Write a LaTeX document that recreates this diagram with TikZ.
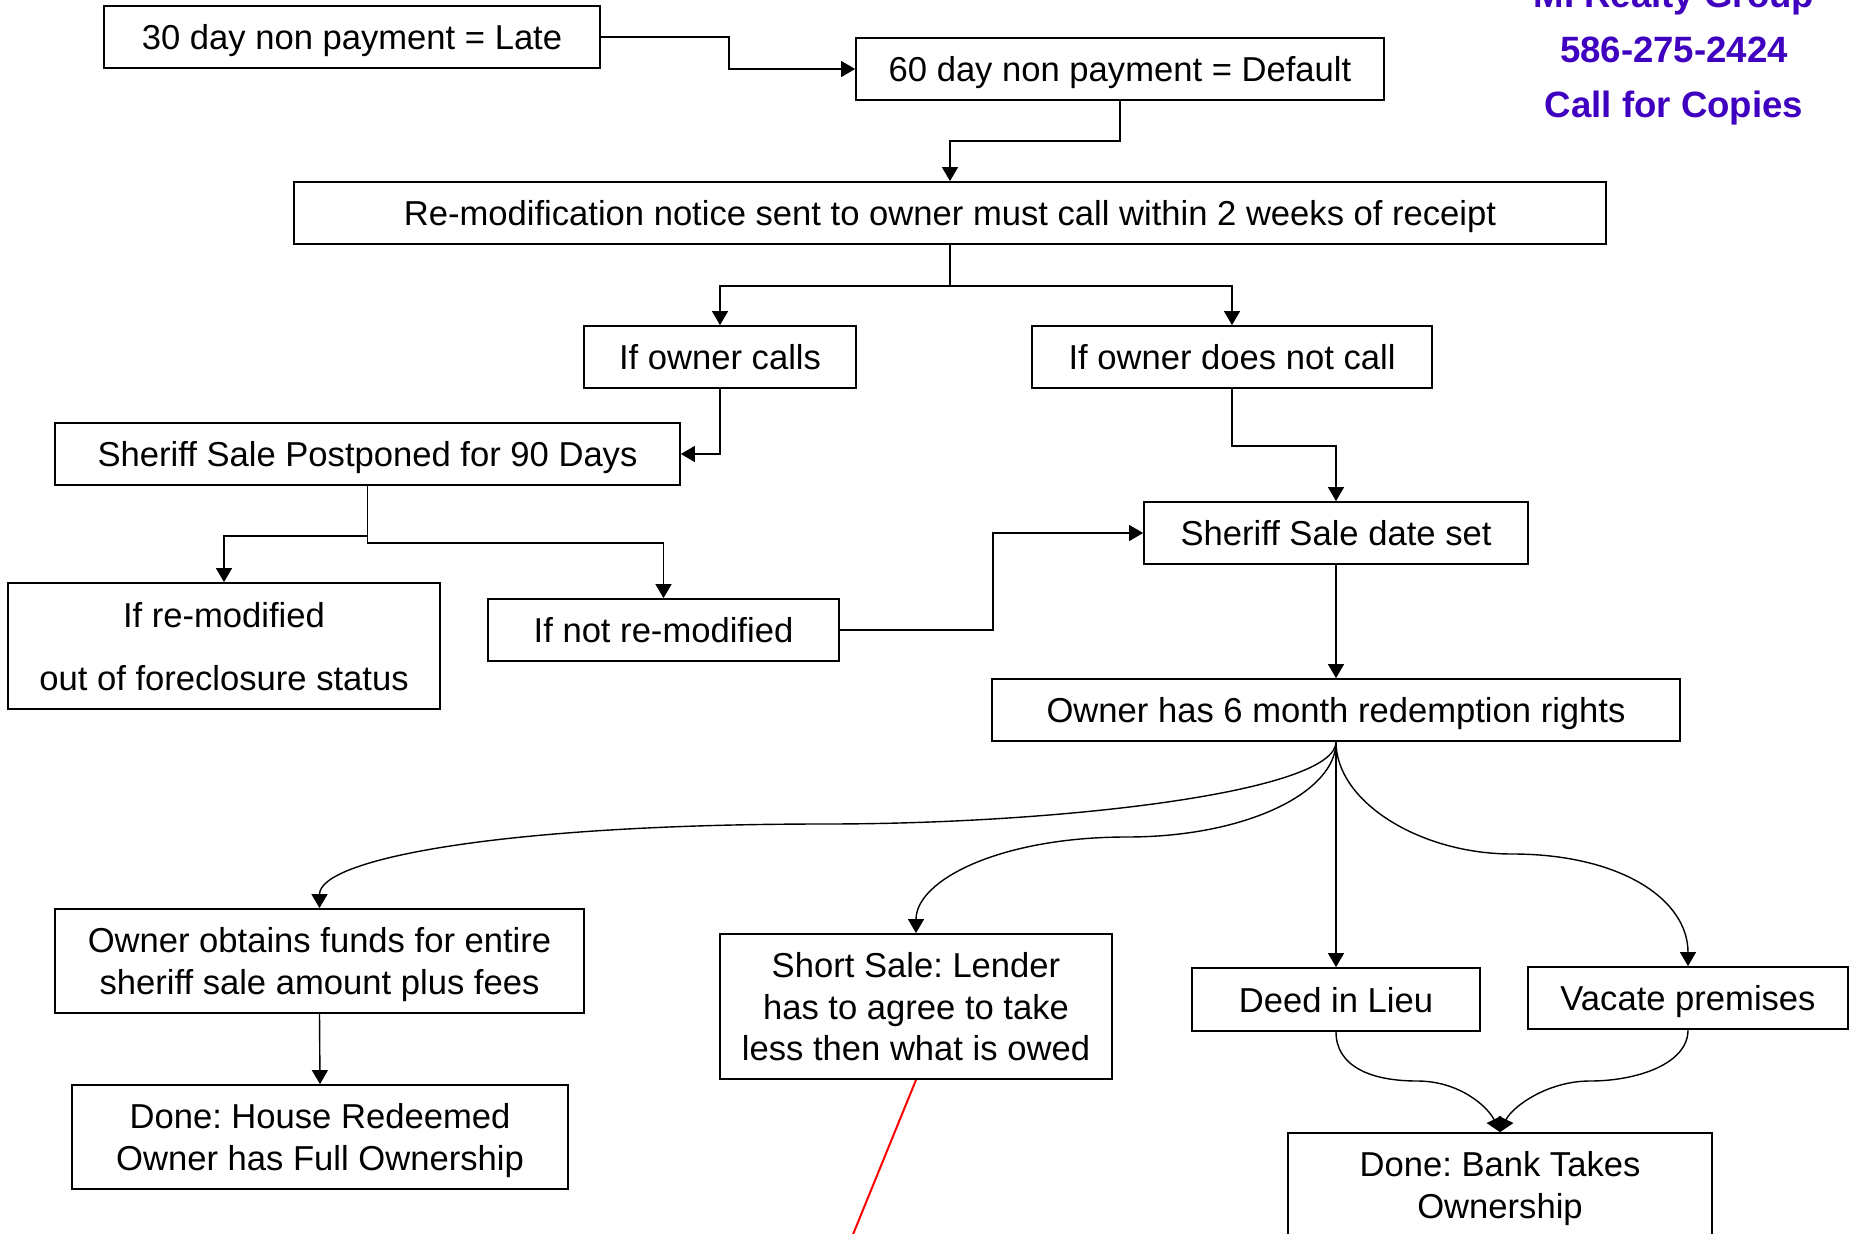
\documentclass[tikz,border=0pt]{standalone}
\usepackage{fontspec}
\setmainfont{Liberation Sans}
\usetikzlibrary{arrows.meta}
\definecolor{realty}{RGB}{64,0,192}
\frenchspacing
\begin{document}
\begin{tikzpicture}[x=0.5pt,y=-0.5pt,
  box/.style={draw, line width=0.9pt, inner sep=0pt, align=center, text depth=0pt, font=\fontsize{17.3}{20.8}\selectfont},
  conn/.style={line width=0.7pt, -{Triangle[length=7pt,width=8pt]}},
  redline/.style={draw=red, line width=1pt},
  brand/.style={text=realty, font=\fontsize{18.3}{22}\selectfont\bfseries, anchor=base}]
\useasboundingbox (0,0) rectangle (1851,1234);

% boxes
\node[box, minimum width=248pt, minimum height=31pt] (A) at (352,37) {30 day non payment = Late};
\node[box, minimum width=264pt, minimum height=31pt] (B) at (1120,69) {60 day non payment = Default};
\node[box, minimum width=656pt, minimum height=31pt] (C) at (950,213) {Re-modification notice sent to owner must call within 2 weeks of receipt};
\node[box, minimum width=136pt, minimum height=31pt] (D) at (720,357) {If owner calls};
\node[box, minimum width=200pt, minimum height=31pt] (E) at (1232,357) {If owner does not call};
\node[box, minimum width=312.5pt, minimum height=31pt] (F) at (367.5,454) {Sheriff Sale Postponed for 90 Days};
\node[box, minimum width=216pt, minimum height=63pt] (G) at (224,646) {If re-modified\\[10.7pt]out of foreclosure status};
\node[box, minimum width=175.5pt, minimum height=31pt] (H) at (663.5,630) {If not re-modified};
\node[box, minimum width=192pt, minimum height=31pt] (I) at (1336,533) {Sheriff Sale date set};
\node[box, minimum width=344pt, minimum height=31pt] (J) at (1336,710) {Owner has 6 month redemption rights};
\node[box, minimum width=264.5pt, minimum height=52pt] (K) at (319.5,961) {Owner obtains funds for entire\\sheriff sale amount plus fees};
\node[box, minimum width=248pt, minimum height=52pt] (L) at (320,1137) {Done: House Redeemed\\Owner has Full Ownership};
\node[box, minimum width=196pt, minimum height=72.5pt] (M) at (916,1006.5) {Short Sale: Lender\\has to agree to take\\less then what is owed};
\node[box, minimum width=144pt, minimum height=31.5pt] (N) at (1336,999.5) {Deed in Lieu};
\node[box, minimum width=160pt, minimum height=31pt] (O) at (1688,998) {Vacate premises};
\node[box, minimum width=212pt, minimum height=52pt] (P) at (1500,1185) {Done: Bank Takes\\Ownership};

% brand text
\node[brand] (t1) at (1674,8) {MI Realty Group};
\node[brand] (t2) at (1674,63) {586-275-2424};
\node[brand] (t3) at (1674,118) {Call for Copies};

% orthogonal connectors
\draw[conn] (A.east) -- ++(128,0) |- (B.west);
\draw[conn] (B.south) -- ++(0,40) -| (C.north);
\draw[conn] (C.south) -- ++(0,41) -| (D.north);
\draw[conn] (C.south) -- ++(0,41) -| (E.north);
\draw[conn] (D.south) |- (F.east);
\draw[conn] (E.south) -- ++(0,57) -| (I.north);
\draw[conn] (F.south) -- ++(0,50) -| (G.north);
\draw[conn] (F.south) -- ++(0,57) -| (H.north);
\draw[conn] (H.east) -- ++(153,0) |- (I.west);
\draw[conn] (I.south) -- (J.north);
\draw[conn] (K.south) -- (L.north);

% curved connectors
\coordinate (mK) at (826,824);
\coordinate (mM) at (1127,837);
\coordinate (mO) at (1512,854);
\coordinate (mN) at (1417,1081);
\coordinate (mV) at (1590,1081);
\draw[conn] (J.south) .. controls +(0,50) and +(236,0) .. (mK) .. controls +(-326,0) and +(0,-49) .. (K.north);
\draw[conn] (J.south) .. controls +(0,50) and +(120,0) .. (mM) .. controls +(-127,0) and +(0,-53) .. (M.north);
\draw[conn] (J.south) -- (N.north);
\draw[conn] (J.south) .. controls +(0,60) and +(-92,0) .. (mO) .. controls +(108,0) and +(0,-67) .. (O.north);
\draw[conn] (N.south) .. controls +(0,34) and +(-47,0) .. (mN) .. controls +(43,0) and +(-12,-25) .. (P.north);
\draw[conn] (O.south) .. controls +(0,34) and +(47,0) .. (mV) .. controls +(-43,0) and +(12,-25) .. (P.north);

% red line
\coordinate (redend) at (845,1254);
\draw[redline] (M.south) -- (redend);
\end{tikzpicture}
\end{document}
